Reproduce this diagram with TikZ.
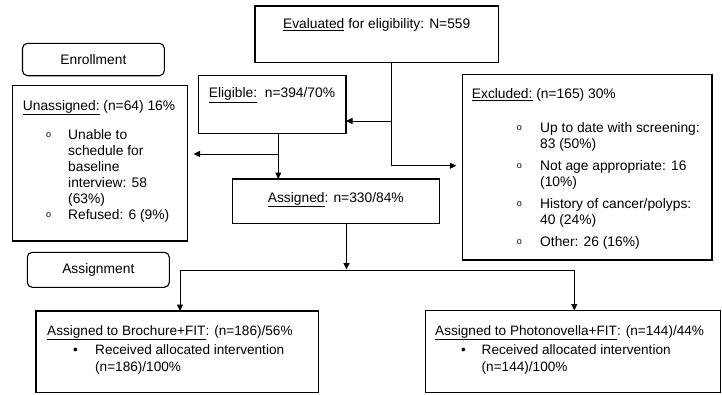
\documentclass[tikz,border=0pt]{standalone}
\usepackage{fontspec}
\setmainfont{Liberation Sans}
\usetikzlibrary{arrows.meta}

\newcommand{\obul}[2]{\hspace*{#1}\makebox[#2][l]{\raisebox{2.2pt}{\fontsize{9}{9}\selectfont o}}}
\newcommand{\dbul}[2]{\hspace*{#1}\makebox[#2][l]{\textbullet}}

\begin{document}
\begin{tikzpicture}[
    x=1pt, y=-1pt,
    >={Triangle[length=6.5pt, width=6pt]},
    box/.style={draw=black, line width=1.1pt, inner sep=0pt, outer sep=0pt, anchor=north west},
    roundbox/.style={draw=black, line width=1.1pt, rounded corners=5pt, inner sep=0pt, font=\fontsize{13.8}{16}\selectfont},
    txt/.style={inner sep=0pt, align=left, font=\fontsize{13.8}{16}\selectfont},
    arrowline/.style={->, line width=1pt},
    link/.style={line width=1pt},
]
\useasboundingbox (0,0) rectangle (722,394);

% ==================== STAGE LABELS ====================
\node[roundbox, minimum width=141.8pt, minimum height=32.4pt] (enroll) at (93.4,59.5) {Enrollment};
\node[roundbox, minimum width=142pt, minimum height=35pt] (assign) at (98.3,269.8) {Assignment};

% ==================== BOXES ====================
\node[box, minimum width=243.3pt, minimum height=56.3pt] (eval) at (255,6) {};
\node[box, minimum width=147.7pt, minimum height=57.6pt] (elig) at (198.3,75.7) {};
\node[box, minimum width=175pt, minimum height=155.5pt] (unas) at (12.5,85.5) {};
\node[box, minimum width=249.7pt, minimum height=185.5pt] (excl) at (462.3,74.5) {};
\node[box, minimum width=206.6pt, minimum height=44.3pt] (assd) at (232.7,179) {};
\node[box, minimum width=282.3pt, minimum height=81.7pt] (broch) at (36,311) {};
\node[box, minimum width=295.2pt, minimum height=82.2pt] (photo) at (425.3,310.5) {};

% Box texts
\node[txt, anchor=base] (eval-t) at (376.7,28.3) {\underline{Evaluated} for eligibility: N=559};
\node[txt, anchor=base] (elig-t) at (272,97.7) {\underline{Eligible:}\ \ n=394/70\%};
\node[txt, anchor=base] (assd-t) at (335.8,202.3) {\underline{Assigned}: n=330/84\%};

\node[txt, anchor=north west] (unas-t) at (22.7,98.8) {\strut\underline{Unassigned:} (n=64) 16\%\\[13pt]
    \obul{23.3pt}{22pt}Unable to\\
    \hspace*{45.3pt}schedule for\\
    \hspace*{45.3pt}baseline\\
    \hspace*{45.3pt}interview: 58\\
    \hspace*{45.3pt}(63\%)\\
    \obul{23.3pt}{22pt}Refused: 6 (9\%)};

\node[txt, anchor=north west, font=\fontsize{13.8}{16.5}\selectfont] (excl-t) at (471.7,87.15) {\strut\underline{Excluded:} (n=165) 30\%\\[16.8pt]
    \obul{45pt}{23.3pt}Up to date with screening:\\
    \hspace*{68.3pt}83 (50\%)\\[5pt]
    \obul{45pt}{23.3pt}Not age appropriate: 16\\
    \hspace*{68.3pt}(10\%)\\[5pt]
    \obul{45pt}{23.3pt}History of cancer/polyps:\\
    \hspace*{68.3pt}40 (24\%)\\[5pt]
    \obul{45pt}{23.3pt}Other: 26 (16\%)};

\node[txt, anchor=north west, font=\fontsize{13.6}{17.5}\selectfont] (broch-t) at (47,322.75) {\strut\underline{Assigned to Brochure+FIT}: (n=186)/56\%\\[1.5pt]
    \dbul{26pt}{22pt}Received allocated intervention\\
    \hspace*{48pt}(n=186)/100\%};

\node[txt, anchor=north west, font=\fontsize{13.6}{17.5}\selectfont] (photo-t) at (435,322.75) {\strut\underline{Assigned to Photonovella+FIT}: (n=144)/44\%\\[1.5pt]
    \dbul{26pt}{20.5pt}Received allocated intervention\\
    \hspace*{46.5pt}(n=144)/100\%};

% ==================== CONNECTORS ====================
\coordinate (j1) at (391.7,121);
\coordinate (j2) at (391.7,165.7);
\coordinate (j3) at (278.3,154);
\coordinate (j4) at (346.5,270);
\coordinate (jl) at (180,270);
\coordinate (jr) at (574.3,270);

\draw[link] (eval.south -| j1) -- (j2);
\draw[arrowline, shorten >=6pt] (j2) -- (excl.west |- j2);
\draw[arrowline] (j1) -- (elig.east |- j1);

\draw[link] (elig.south -| j3) -- (j3);
\draw[arrowline, shorten >=6pt] (j3) -- (unas.east |- j3);
\draw[arrowline] (j3) -- (assd.north -| j3);

\draw[arrowline, shorten >=0.5pt] (assd.south -| j4) -- (j4);
\draw[link] (jl) -- (jr);
\draw[arrowline] (jl) -- (broch.north -| jl);
\draw[arrowline] (jr) -- (photo.north -| jr);

\end{tikzpicture}
\end{document}
